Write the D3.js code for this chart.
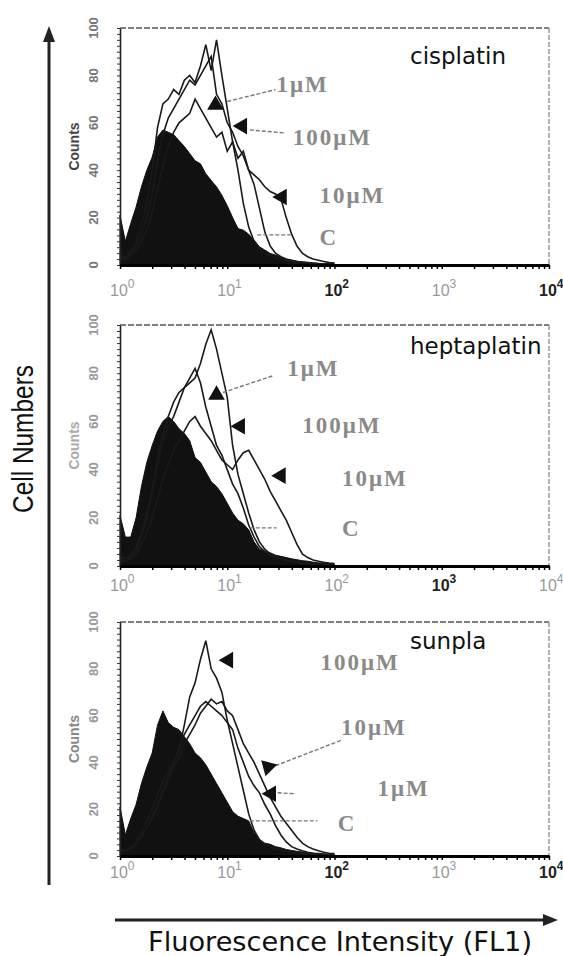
<!DOCTYPE html>
<html>
<head>
<meta charset="utf-8">
<script src="https://cdn.jsdelivr.net/npm/d3@7"></script>
<style>
	body { margin: 0; background: #fff; }
	svg { display: block; }
</style>
</head>
<body>
<svg id="chart" width="563" height="956"></svg>
<script>

// histogram bins: one value every 0.05 decade, from 10^0 to 10^2
var LOG_STEP = 0.05;

var panelNames = ['cisplatin', 'heptaplatin', 'sunpla'];
var yTicks = [0, 20, 40, 60, 80, 100];
var xTickExps = ['0', '1', '2', '3', '4'];

var cisControl = [21, 10, 17.5, 24.5, 33, 40, 45.5, 54, 57, 56, 55, 52.5, 50, 47, 44, 42.7, 38.5, 35.7, 33, 29.4, 25, 20, 15.4, 14.7, 13, 10.5, 7.7, 6.3, 4.9, 4.2, 3.2, 2.4, 2.0, 1.6, 1.3, 1.0, 0.8, 0.7, 0.6, 0.5, 0.4];
var cis1uM = [4, 3, 6, 10, 17, 26, 40, 58, 68, 70, 74, 72, 78, 80, 77, 84, 93, 82, 95, 80, 66, 52, 40, 26, 16, 10, 7, 5, 4, 3, 2.5, 2, 1.5, 1.2, 1, 0.8, 0.6, 0.5, 0.4, 0.3, 0.3];
var cis100uM = [3, 3, 5, 8, 13, 20, 30, 45, 55, 62, 66, 70, 74, 78, 76, 80, 84, 88, 72, 68, 60, 56, 50, 46, 40, 34, 24, 14, 8, 5, 3.5, 2.5, 2, 1.5, 1.2, 1, 0.8, 0.6, 0.5, 0.4, 0.3];
var cis10uM = [3, 2, 4, 6, 10, 15, 22, 32, 42, 50, 56, 60, 62, 64, 70, 66, 62, 58, 54, 56, 48, 52, 45, 48, 40, 38, 36, 33, 31, 30, 28, 20, 13, 8, 5, 3.5, 2.5, 2, 1.5, 1, 0.8];

var hepControl = [21, 12, 12, 20, 33, 43, 50, 56, 60, 62, 60, 57, 55, 52, 45, 43, 39, 35, 33, 30, 26, 22, 19, 17.5, 15, 10, 7, 6, 5.5, 4.5, 4, 3.5, 3, 2.6, 2.2, 2, 1.6, 1.3, 1.1, 1, 0.8];
var hep1uM = [4, 3, 5, 8, 14, 22, 32, 42, 52, 58, 62, 68, 74, 76, 78, 84, 92, 98, 90, 80, 70, 50, 38, 30, 22, 15, 10, 7, 5, 4, 3, 2.5, 2, 1.6, 1.3, 1, 0.8, 0.6, 0.5, 0.4, 0.3];
var hep100uM = [3, 3, 4, 7, 12, 20, 30, 45, 55, 62, 68, 72, 74, 78, 82, 76, 66, 58, 50, 46, 40, 34, 30, 24, 17, 12, 8, 6, 4.5, 3.5, 3, 2.4, 2, 1.6, 1.2, 1, 0.8, 0.6, 0.5, 0.4, 0.3];
var hep10uM = [2, 2, 3, 5, 9, 14, 20, 28, 36, 42, 48, 52, 56, 60, 62, 58, 55, 52, 48, 44, 42, 40, 44, 47, 48, 44, 40, 36, 31, 27, 23, 19, 14, 9, 5, 3.5, 2.5, 2, 1.5, 1.2, 1];

var sunControl = [21, 9, 16, 22, 31, 38, 44, 56, 62, 57, 55, 54, 51, 48, 44, 42, 39, 35, 31, 27, 23, 19, 17, 16, 15, 10, 7, 5.5, 5, 4, 3.5, 2.8, 2.4, 2, 1.7, 1.5, 1.2, 1, 0.8, 0.7, 0.6];
var sun100uM = [3, 2, 4, 6, 10, 15, 20, 26, 32, 36, 40, 45, 56, 68, 74, 84, 92, 80, 76, 70, 58, 48, 38, 28, 18, 11, 7, 5, 4, 3, 2.5, 2, 1.5, 1.2, 1, 0.8, 0.6, 0.5, 0.4, 0.3, 0.3];
var sun10uM = [2, 2, 3, 5, 8, 12, 16, 21, 27, 32, 38, 42, 48, 52, 56, 61, 64, 67, 65, 66, 62, 60, 54, 48, 44, 40, 35, 30, 25, 21, 17, 14, 11, 8, 5.5, 4, 3, 2.2, 1.6, 1.2, 1];
var sun1uM = [2, 2, 3, 5, 8, 12, 17, 22, 28, 34, 40, 46, 52, 56, 60, 64, 66, 64, 62, 60, 57, 54, 46, 40, 34, 30, 27, 22, 18, 13, 9, 6, 4, 3, 2.2, 1.6, 1.2, 1, 0.8, 0.6, 0.5];

// annotation text, arrowheads and leader lines, placed in data units (decade, count)
var cisLabels = [{t: '1μM', x: 1.46, y: 73}, {t: '100μM', x: 1.61, y: 50.6}, {t: '10μM', x: 1.86, y: 26}, {t: 'C', x: 1.86, y: 8.4}];
var cisHeads = [{x: 0.89, y: 67.5, r: 0}, {x: 1.14, y: 58.6, r: -90}, {x: 1.51, y: 28.7, r: -90}];
var cisLeaders = [{x1: 1.0, y1: 69, x2: 1.45, y2: 74}, {x1: 1.21, y1: 57, x2: 1.54, y2: 55.7}, {x1: 1.28, y1: 12.7, x2: 1.59, y2: 12.7}];

var hepLabels = [{t: '1μM', x: 1.56, y: 79}, {t: '100μM', x: 1.70, y: 55}, {t: '10μM', x: 2.07, y: 33}, {t: 'C', x: 2.07, y: 12.5}];
var hepHeads = [{x: 0.9, y: 71, r: 0}, {x: 1.12, y: 58, r: -90}, {x: 1.5, y: 37.5, r: -90}];
var hepLeaders = [{x1: 0.96, y1: 72, x2: 1.43, y2: 79}, {x1: 1.21, y1: 15.8, x2: 1.46, y2: 15.8}];

var sunLabels = [{t: '100μM', x: 1.87, y: 79.4}, {t: '10μM', x: 2.06, y: 51.5}, {t: '1μM', x: 2.4, y: 25.8}, {t: 'C', x: 2.03, y: 10.7}];
var sunHeads = [{x: 1.01, y: 83.7, r: -90}, {x: 1.38, y: 38, r: -45}, {x: 1.41, y: 26.6, r: -90}];
var sunLeaders = [{x1: 1.45, y1: 38.6, x2: 2.06, y2: 49.4}, {x1: 1.47, y1: 27, x2: 1.64, y2: 26.6}, {x1: 1.21, y1: 15, x2: 1.84, y2: 15}];

var X_LEFT = 120;
var X_RIGHT = 549;

var panels = [
	{name: panelNames[0], top: 28, bottom: 265, titleY: 64, xLabOff: 31, countsColor: '#444', yLabColor: '#777',
		control: cisControl, lines: [cis1uM, cis100uM, cis10uM],
		labels: cisLabels, heads: cisHeads, leaders: cisLeaders, darkExp: ['2', '4']},
	{name: panelNames[1], top: 325, bottom: 566, titleY: 354, xLabOff: 25, countsColor: '#aaa', yLabColor: '#999',
		control: hepControl, lines: [hep1uM, hep100uM, hep10uM],
		labels: hepLabels, heads: hepHeads, leaders: hepLeaders, darkExp: ['3']},
	{name: panelNames[2], top: 622, bottom: 856, titleY: 649, xLabOff: 22, countsColor: '#888', yLabColor: '#999',
		control: sunControl, lines: [sun100uM, sun10uM, sun1uM],
		labels: sunLabels, heads: sunHeads, leaders: sunLeaders, darkExp: ['2', '4']}
];

var svg = d3.select('#chart');

var x = d3.scaleLog().domain([1, 10000]).range([X_LEFT, X_RIGHT]);

// log minor ticks 1..9 per decade
var minorTicks = [];
for (var k = 0; k < 4; k++) {
	for (var m = 1; m < 10; m++) {
		minorTicks.push(m * Math.pow(10, k));
	}
}
minorTicks.push(10000);

function binX(d, i) {
	return x(Math.pow(10, i * LOG_STEP));
}

function drawPanel(p) {
	var y = d3.scaleLinear().domain([0, 100]).range([p.bottom, p.top]);
	var g = svg.append('g');

	// control histogram, filled
	var area = d3.area()
		.x(binX)
		.y0(y(0))
		.y1(function (d) { return y(d); });
	g.append('path')
		.datum(p.control)
		.attr('d', area)
		.attr('fill', '#111')
		.attr('stroke', '#111')
		.attr('stroke-width', 1);

	var line = d3.line()
		.x(binX)
		.y(function (d) { return y(d); });
	p.lines.forEach(function (s) {
		g.append('path')
			.datum(s)
			.attr('d', line)
			.attr('fill', 'none')
			.attr('stroke', '#1a1a1a')
			.attr('stroke-width', 1.6);
	});

	// frame: top and right are faint
	g.append('line')
		.attr('x1', X_LEFT).attr('x2', X_RIGHT)
		.attr('y1', p.top).attr('y2', p.top)
		.attr('stroke', '#555').attr('stroke-width', 1.6)
		.attr('stroke-dasharray', '6,2');
	g.append('line')
		.attr('x1', X_RIGHT).attr('x2', X_RIGHT)
		.attr('y1', p.top).attr('y2', p.bottom)
		.attr('stroke', '#999').attr('stroke-width', 1.5)
		.attr('stroke-dasharray', '5,2');

	var left = g.append('g')
		.attr('transform', 'translate(' + X_LEFT + ',0)')
		.call(d3.axisLeft(y).tickValues(d3.range(0, 101, 2.5)).tickSize(3).tickSizeOuter(0).tickFormat(''));
	left.select('.domain').attr('stroke', '#222').attr('stroke-width', 1.6);
	left.selectAll('.tick line').attr('stroke', '#333');

	var bottom = g.append('g')
		.attr('transform', 'translate(0,' + p.bottom + ')')
		.call(d3.axisBottom(x).tickValues(minorTicks).tickSize(4).tickSizeOuter(0).tickFormat(''));
	bottom.select('.domain').attr('stroke', '#000').attr('stroke-width', 3);
	bottom.selectAll('.tick line').attr('stroke', '#000').attr('stroke-width', 1.5);

	// y tick labels, turned sideways
	g.selectAll('.ylab')
		.data(yTicks)
		.enter()
		.append('text')
		.attr('transform', function (d) { return 'translate(98,' + y(d) + ') rotate(-90)'; })
		.attr('text-anchor', 'middle')
		.attr('font-family', 'Liberation Sans, Arial, sans-serif')
		.attr('font-size', 13)
		.attr('font-weight', 'bold')
		.attr('fill', p.yLabColor)
		.text(function (d) { return d; });

	g.append('text')
		.attr('transform', 'translate(79,' + ((p.top + p.bottom) / 2) + ') rotate(-90)')
		.attr('text-anchor', 'middle')
		.attr('font-family', 'Liberation Sans, Arial, sans-serif')
		.attr('font-size', 14)
		.attr('font-weight', 'bold')
		.attr('fill', p.countsColor)
		.text('Counts');

	// x tick labels 10^n
	var xl = g.selectAll('.xlab')
		.data(xTickExps)
		.enter()
		.append('text')
		.attr('x', function (d) { return x(Math.pow(10, +d)) - 10; })
		.attr('y', p.bottom + p.xLabOff)
		.attr('font-family', 'Liberation Sans, Arial, sans-serif')
		.attr('font-size', 16)
		.attr('font-weight', function (d) { return p.darkExp.indexOf(d) >= 0 ? 'bold' : 'normal'; })
		.attr('fill', function (d) { return p.darkExp.indexOf(d) >= 0 ? '#222' : '#999'; });
	xl.append('tspan').text('10');
	xl.append('tspan')
		.attr('dy', -8)
		.attr('font-size', 12)
		.text(function (d) { return d; });

	g.append('text')
		.attr('x', 410)
		.attr('y', p.titleY)
		.attr('font-family', 'DejaVu Sans, sans-serif')
		.attr('font-size', 23)
		.attr('fill', '#111')
		.text(p.name);

	// concentration labels with leaders and arrowheads
	p.leaders.forEach(function (l) {
		g.append('line')
			.attr('x1', x(Math.pow(10, l.x1))).attr('y1', y(l.y1))
			.attr('x2', x(Math.pow(10, l.x2))).attr('y2', y(l.y2))
			.attr('stroke', '#777')
			.attr('stroke-width', 1.4)
			.attr('stroke-dasharray', '4,2');
	});

	p.heads.forEach(function (h) {
		g.append('path')
			.attr('d', d3.symbol(d3.symbolTriangle).size(120)())
			.attr('transform', 'translate(' + x(Math.pow(10, h.x)) + ',' + y(h.y) + ') rotate(' + h.r + ')')
			.attr('fill', '#111');
	});

	p.labels.forEach(function (l) {
		g.append('text')
			.attr('x', x(Math.pow(10, l.x)))
			.attr('y', y(l.y))
			.attr('font-family', 'Liberation Serif, Times New Roman, serif')
			.attr('font-size', 23)
			.attr('font-weight', 'bold')
			.attr('letter-spacing', 2)
			.attr('fill', '#8a8a8a')
			.text(l.t);
	});
}

panels.forEach(drawPanel);

// big axis arrows and titles
svg.append('line')
	.attr('x1', 49).attr('x2', 49)
	.attr('y1', 885).attr('y2', 40)
	.attr('stroke', '#222').attr('stroke-width', 3);
svg.append('path')
	.attr('d', 'M43,42 L49,26 L55,42 Z')
	.attr('fill', '#222');

svg.append('line')
	.attr('x1', 115).attr('x2', 545)
	.attr('y1', 920).attr('y2', 920)
	.attr('stroke', '#222').attr('stroke-width', 3);
svg.append('path')
	.attr('d', 'M543,914 L558,920 L543,926 Z')
	.attr('fill', '#222');

svg.append('text')
	.attr('transform', 'translate(33,439) rotate(-90)')
	.attr('text-anchor', 'middle')
	.attr('font-family', 'Liberation Sans Narrow, Arial Narrow, sans-serif')
	.attr('font-size', 29)
	.attr('textLength', 148)
	.attr('lengthAdjust', 'spacingAndGlyphs')
	.attr('fill', '#111')
	.text('Cell Numbers');

svg.append('text')
	.attr('x', 340)
	.attr('y', 951)
	.attr('text-anchor', 'middle')
	.attr('font-family', 'DejaVu Sans, sans-serif')
	.attr('font-size', 27)
	.attr('textLength', 384)
	.attr('lengthAdjust', 'spacingAndGlyphs')
	.attr('fill', '#111')
	.text('Fluorescence Intensity (FL1)');

</script>
</body>
</html>
